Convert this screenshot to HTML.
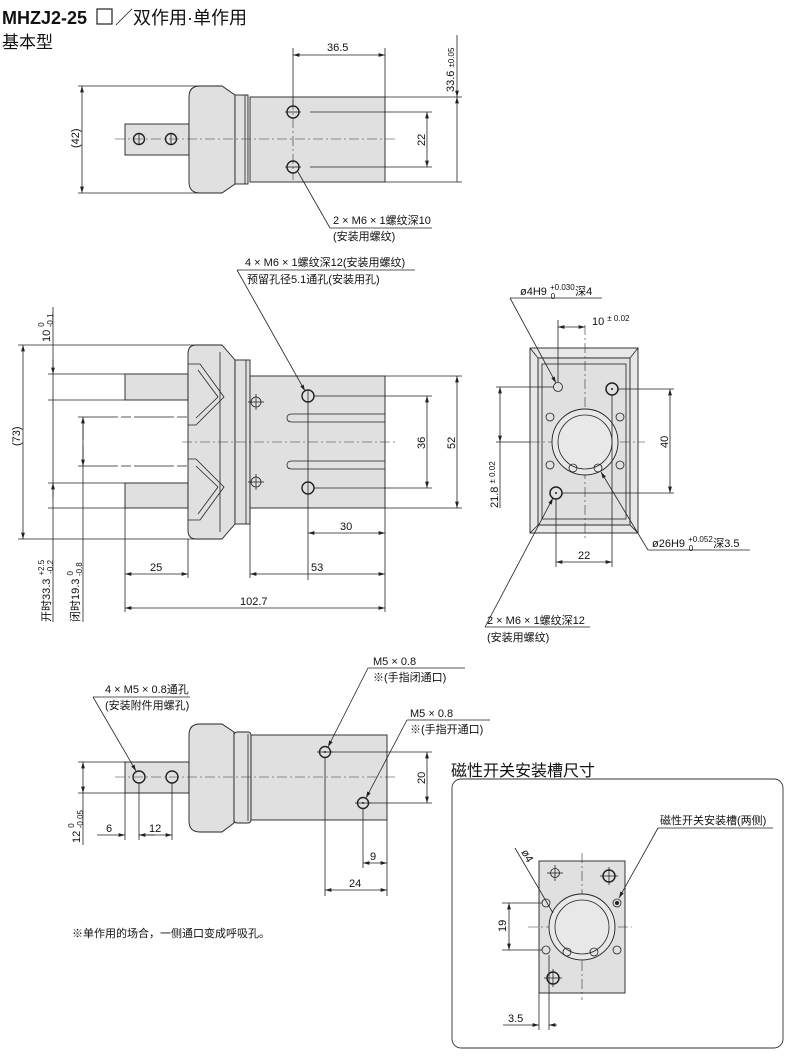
<!DOCTYPE html>
<html><head><meta charset="utf-8"><style>
html,body{margin:0;padding:0;background:#fff}
svg{display:block}
text{font-family:"Liberation Sans","Noto Sans CJK SC",sans-serif;fill:#111}
.l{stroke:#222;stroke-width:0.8;fill:none}
.g{fill:#e0e0e0;stroke:#222;stroke-width:0.9}
.c{stroke:#333;stroke-width:0.6;fill:none;stroke-dasharray:10 3 2 3}
.d{font-size:11px}
.s{font-size:8px}
</style></head><body>
<svg width="790" height="1056" viewBox="0 0 790 1056" xmlns="http://www.w3.org/2000/svg">
<defs>
<marker id="a" viewBox="0 0 10 6" refX="10" refY="3" markerWidth="8" markerHeight="5" orient="auto-start-reverse"><path d="M0,0 L10,3 L0,6 z" fill="#222"/></marker>
</defs>

<!-- Titles -->
<text x="2" y="24" style="font-size:18px;font-weight:bold">MHZJ2-25</text>
<rect x="97" y="9" width="15" height="15" fill="none" stroke="#222" stroke-width="1.2"/>
<text x="115" y="24" style="font-size:18px">／双作用·单作用</text>
<text x="2" y="48" style="font-size:17px">基本型</text>

<!-- ===== VIEW 1 ===== -->
<rect class="g" x="125" y="124" width="64" height="31"/>
<path class="g" d="M200,86 H222 L235,95 V184 L222,193 H200 Q189,193 189,182 V97 Q189,86 200,86 Z"/>
<rect class="g" x="235" y="95" width="13" height="89"/>
<line class="l" x1="245" y1="95" x2="245" y2="184"/>
<rect class="g" x="250" y="97" width="135" height="85"/>
<line class="c" x1="115" y1="139" x2="395" y2="139"/>
<line class="c" x1="293" y1="100" x2="293" y2="180"/>
<circle class="l" cx="139" cy="139" r="5.5" style="stroke-width:1.4"/><line class="l" x1="139" y1="133" x2="139" y2="145"/>
<circle class="l" cx="171" cy="139" r="5.5" style="stroke-width:1.4"/><line class="l" x1="171" y1="133" x2="171" y2="145"/>
<circle class="l" cx="293" cy="112" r="6" style="stroke-width:1.4"/><line class="l" x1="285" y1="112" x2="301" y2="112"/>
<circle class="l" cx="293" cy="167" r="6" style="stroke-width:1.4"/><line class="l" x1="285" y1="167" x2="301" y2="167"/>
<!-- dims -->
<line class="l" x1="293" y1="48" x2="293" y2="105"/><line class="l" x1="385" y1="48" x2="385" y2="97"/>
<line class="l" x1="293" y1="55" x2="385" y2="55" marker-start="url(#a)" marker-end="url(#a)"/>
<text class="d" x="327" y="51">36.5</text>
<line class="l" x1="385" y1="97" x2="462" y2="97"/><line class="l" x1="385" y1="182" x2="462" y2="182"/>
<line class="l" x1="457" y1="35" x2="457" y2="97" marker-end="url(#a)"/>
<line class="l" x1="457" y1="182" x2="457" y2="97" marker-end="url(#a)"/>
<text class="d" transform="translate(454,92) rotate(-90)">33.6 <tspan class="s">±0.05</tspan></text>
<line class="l" x1="310" y1="112" x2="432" y2="112"/><line class="l" x1="310" y1="167" x2="432" y2="167"/>
<line class="l" x1="427" y1="112" x2="427" y2="167" marker-start="url(#a)" marker-end="url(#a)"/>
<text class="d" transform="translate(425,146) rotate(-90)">22</text>
<line class="l" x1="78" y1="86" x2="200" y2="86"/><line class="l" x1="78" y1="193" x2="200" y2="193"/>
<line class="l" x1="82" y1="86" x2="82" y2="193" marker-start="url(#a)" marker-end="url(#a)"/>
<text class="d" transform="translate(79,148) rotate(-90)">(42)</text>
<line class="l" x1="298" y1="172" x2="330" y2="228"/><line class="l" x1="330" y1="228" x2="432" y2="228"/>
<text class="d" x="333" y="224">2 × M6 × 1螺纹深10</text>
<text class="d" x="333" y="240">(安装用螺纹)</text>

<!-- ===== VIEW 2 ===== -->
<rect class="g" x="125" y="374" width="63" height="26"/>
<rect class="g" x="125" y="483" width="63" height="25"/>
<path class="g" d="M196,345 H222 L235,360 V524 L222,539 H196 Q188,539 188,530 V354 Q188,345 196,345 Z"/>
<rect class="g" x="235" y="360" width="15" height="164"/>
<line class="l" x1="246" y1="360" x2="246" y2="524"/>
<line class="l" x1="220" y1="352" x2="220" y2="532"/>
<rect class="g" x="250" y="376" width="135" height="132"/>
<path class="l" d="M188,364 H200 L224,397 L196,425 H188"/>
<path class="l" d="M198,370 L218,397 L196,418"/>
<path class="l" d="M188,520 H200 L224,487 L196,459 H188"/>
<path class="l" d="M198,514 L218,487 L196,466"/>
<path class="l" d="M385,414 H292 Q287,414 287,418 Q287,422 292,422 H385"/>
<path class="l" d="M385,461 H292 Q287,461 287,465 Q287,469 292,469 H385"/>
<line class="c" x1="182" y1="442" x2="395" y2="442"/>
<circle class="l" cx="308" cy="396" r="6" style="stroke-width:1.4"/>
<circle class="l" cx="308" cy="488" r="6" style="stroke-width:1.4"/>
<circle class="l" cx="256" cy="402" r="5"/><line class="l" x1="248" y1="402" x2="264" y2="402"/><line class="l" x1="256" y1="394" x2="256" y2="410"/>
<circle class="l" cx="256" cy="482" r="5"/><line class="l" x1="248" y1="482" x2="264" y2="482"/><line class="l" x1="256" y1="474" x2="256" y2="490"/>
<line class="l" x1="308" y1="390" x2="308" y2="580"/>
<!-- leader -->
<line class="l" x1="237" y1="270" x2="305" y2="391" marker-end="url(#a)"/>
<line class="l" x1="237" y1="270" x2="415" y2="270"/>
<text class="d" x="245" y="266">4 × M6 × 1螺纹深12(安装用螺纹)</text>
<text class="d" x="247" y="283">预留孔径5.1通孔(安装用孔)</text>
<!-- right dims -->
<line class="l" x1="314" y1="396" x2="432" y2="396"/><line class="l" x1="314" y1="488" x2="432" y2="488"/>
<line class="l" x1="427" y1="396" x2="427" y2="488" marker-start="url(#a)" marker-end="url(#a)"/>
<text class="d" transform="translate(425,449) rotate(-90)">36</text>
<line class="l" x1="385" y1="376" x2="462" y2="376"/><line class="l" x1="385" y1="508" x2="462" y2="508"/>
<line class="l" x1="457" y1="376" x2="457" y2="508" marker-start="url(#a)" marker-end="url(#a)"/>
<text class="d" transform="translate(455,449) rotate(-90)">52</text>
<!-- bottom dims -->
<line class="l" x1="385" y1="508" x2="385" y2="612"/>
<line class="l" x1="308" y1="533" x2="385" y2="533" marker-start="url(#a)" marker-end="url(#a)"/>
<text class="d" x="340" y="530">30</text>
<line class="l" x1="250" y1="508" x2="250" y2="578"/>
<line class="l" x1="250" y1="574" x2="385" y2="574" marker-start="url(#a)" marker-end="url(#a)"/>
<text class="d" x="311" y="571">53</text>
<line class="l" x1="125" y1="508" x2="125" y2="612"/><line class="l" x1="188" y1="539" x2="188" y2="578"/>
<line class="l" x1="125" y1="574" x2="188" y2="574" marker-start="url(#a)" marker-end="url(#a)"/>
<text class="d" x="150" y="571">25</text>
<line class="l" x1="125" y1="608" x2="385" y2="608" marker-start="url(#a)" marker-end="url(#a)"/>
<text class="d" x="240" y="605">102.7</text>
<!-- left dims -->
<line class="l" x1="18" y1="345" x2="196" y2="345"/><line class="l" x1="18" y1="539" x2="196" y2="539"/>
<line class="l" x1="23" y1="345" x2="23" y2="539" marker-start="url(#a)" marker-end="url(#a)"/>
<text class="d" transform="translate(20,446) rotate(-90)">(73)</text>
<line class="l" x1="48" y1="374" x2="125" y2="374"/><line class="l" x1="48" y1="400" x2="125" y2="400"/>
<line class="l" x1="48" y1="483" x2="125" y2="483"/><line class="l" x1="48" y1="508" x2="125" y2="508"/>
<line class="l" x1="53" y1="307" x2="53" y2="622"/>
<line class="l" x1="53" y1="360" x2="53" y2="374" marker-end="url(#a)"/>
<line class="l" x1="53" y1="497" x2="53" y2="483" marker-end="url(#a)"/>
<text class="d" transform="translate(50,342) rotate(-90)">10 <tspan class="s" dy="-6">0</tspan><tspan class="s" dx="-5" dy="9">-0.1</tspan></text>
<line class="l" x1="78" y1="417" x2="188" y2="417" style="stroke-dasharray:40 3 10 3"/>
<line class="l" x1="78" y1="466" x2="188" y2="466" style="stroke-dasharray:40 3 10 3"/>
<line class="l" x1="83" y1="417" x2="83" y2="622"/>
<line class="l" x1="83" y1="440" x2="83" y2="417" marker-end="url(#a)"/>
<line class="l" x1="83" y1="445" x2="83" y2="466" marker-end="url(#a)"/>
<text class="d" transform="translate(50,622) rotate(-90)">开时33.3 <tspan class="s" dy="-6">+2.5</tspan><tspan class="s" dx="-14" dy="9">-0.2</tspan></text>
<text class="d" transform="translate(79,622) rotate(-90)">闭时19.3 <tspan class="s" dy="-6">0</tspan><tspan class="s" dx="-5" dy="9">-0.8</tspan></text>

<!-- ===== VIEW 3 ===== -->
<rect x="530" y="348" width="108" height="185" fill="#e8e8e8" stroke="#222" stroke-width="0.9"/>
<path class="l" d="M530,348 L538,358 H630 L638,348 M530,533 L538,525 H630 L638,533"/>
<rect class="g" x="538" y="358" width="92" height="167"/>
<rect class="l" x="542" y="364" width="84" height="155"/>
<line class="c" x1="585" y1="325" x2="585" y2="540"/>
<line class="c" x1="530" y1="442" x2="645" y2="442"/>
<circle cx="585" cy="442" r="33" fill="#e8e8e8" stroke="#222" stroke-width="0.9"/>
<circle class="l" cx="585" cy="442" r="27"/>
<circle class="l" cx="573" cy="468" r="4"/><circle class="l" cx="598" cy="468" r="4"/>
<circle class="l" cx="558" cy="387" r="4.5"/>
<circle class="l" cx="612" cy="389" r="6" style="stroke-width:1.5"/><circle cx="612" cy="389" r="1" fill="#222"/>
<circle class="l" cx="556" cy="493" r="6" style="stroke-width:1.5"/><circle cx="556" cy="493" r="1" fill="#222"/>
<g class="l"><circle cx="550" cy="417" r="4"/><circle cx="620" cy="417" r="4"/><circle cx="550" cy="465" r="4"/><circle cx="620" cy="465" r="4"/></g>
<line class="l" x1="510" y1="298" x2="556" y2="383" marker-end="url(#a)"/>
<line class="l" x1="510" y1="298" x2="602" y2="298"/>
<text class="d" x="520" y="295">ø4H9 <tspan class="s" dy="-5">+0.030</tspan><tspan class="s" dx="-24" dy="9">0</tspan><tspan dx="20" dy="-4">深4</tspan></text>
<line class="l" x1="558" y1="320" x2="558" y2="382"/>
<line class="l" x1="558" y1="327" x2="585" y2="327" marker-start="url(#a)" marker-end="url(#a)"/>
<text class="d" x="592" y="325">10 <tspan class="s" dy="-4">± 0.02</tspan></text>
<line class="l" x1="618" y1="389" x2="674" y2="389"/><line class="l" x1="562" y1="493" x2="674" y2="493"/>
<line class="l" x1="670" y1="389" x2="670" y2="493" marker-start="url(#a)" marker-end="url(#a)"/>
<text class="d" transform="translate(668,448) rotate(-90)">40</text>
<line class="l" x1="496" y1="387" x2="554" y2="387"/><line class="l" x1="496" y1="442" x2="530" y2="442"/>
<line class="l" x1="500" y1="387" x2="500" y2="442" marker-start="url(#a)" marker-end="url(#a)"/>
<line class="l" x1="500" y1="442" x2="500" y2="508"/>
<text class="d" transform="translate(498,508) rotate(-90)">21.8 <tspan class="s" dy="-3">± 0.02</tspan></text>
<line class="l" x1="556" y1="499" x2="556" y2="567"/><line class="l" x1="612" y1="395" x2="612" y2="567"/>
<line class="l" x1="556" y1="562" x2="612" y2="562" marker-start="url(#a)" marker-end="url(#a)"/>
<text class="d" x="578" y="559">22</text>
<line class="l" x1="648" y1="550" x2="601" y2="472" marker-end="url(#a)"/>
<line class="l" x1="648" y1="550" x2="750" y2="550"/>
<text class="d" x="652" y="547">ø26H9 <tspan class="s" dy="-5">+0.052</tspan><tspan class="s" dx="-24" dy="9">0</tspan><tspan dx="20" dy="-4">深3.5</tspan></text>
<line class="l" x1="485" y1="627" x2="553" y2="498" marker-end="url(#a)"/>
<line class="l" x1="485" y1="627" x2="590" y2="627"/>
<text class="d" x="487" y="624">2 × M6 × 1螺纹深12</text>
<text class="d" x="487" y="641">(安装用螺纹)</text>

<!-- ===== VIEW 4 ===== -->
<rect class="g" x="125" y="762" width="64" height="31"/>
<path class="g" d="M200,724 H222 L234,732 V823 L222,832 H200 Q189,832 189,821 V735 Q189,724 200,724 Z"/>
<rect class="g" x="234" y="732" width="17" height="91" rx="3"/>
<line class="l" x1="248" y1="734" x2="248" y2="821"/>
<rect class="g" x="251" y="735" width="136" height="85"/>
<line class="c" x1="115" y1="777" x2="395" y2="777"/>
<circle class="l" cx="139" cy="777" r="6" style="stroke-width:1.4"/>
<circle class="l" cx="172" cy="777" r="6" style="stroke-width:1.4"/>
<circle class="l" cx="325" cy="752" r="5.5" style="stroke-width:1.4"/><line class="l" x1="317" y1="752" x2="333" y2="752"/><circle cx="325" cy="752" r="1" fill="#222"/>
<circle class="l" cx="363" cy="803" r="5.5" style="stroke-width:1.4"/><line class="l" x1="355" y1="803" x2="371" y2="803"/><circle cx="363" cy="803" r="1" fill="#222"/>
<line class="l" x1="331" y1="752" x2="432" y2="752"/><line class="l" x1="369" y1="803" x2="432" y2="803"/>
<line class="l" x1="427" y1="752" x2="427" y2="803" marker-start="url(#a)" marker-end="url(#a)"/>
<text class="d" transform="translate(425,784) rotate(-90)">20</text>
<line class="l" x1="78" y1="762" x2="125" y2="762"/><line class="l" x1="78" y1="793" x2="125" y2="793"/>
<line class="l" x1="83" y1="762" x2="83" y2="793" marker-start="url(#a)" marker-end="url(#a)"/>
<line class="l" x1="83" y1="793" x2="83" y2="845"/>
<text class="d" transform="translate(80,843) rotate(-90)">12 <tspan class="s" dy="-6">0</tspan><tspan class="s" dx="-5" dy="9">-0.05</tspan></text>
<line class="l" x1="125" y1="793" x2="125" y2="840"/><line class="l" x1="139" y1="783" x2="139" y2="840"/><line class="l" x1="172" y1="783" x2="172" y2="840"/>
<line class="l" x1="97" y1="835" x2="125" y2="835" marker-end="url(#a)"/>
<line class="l" x1="155" y1="835" x2="139" y2="835" marker-end="url(#a)"/>
<text class="d" x="106" y="832">6</text>
<line class="l" x1="139" y1="835" x2="172" y2="835" marker-end="url(#a)"/>
<text class="d" x="149" y="832">12</text>
<line class="l" x1="325" y1="758" x2="325" y2="896"/><line class="l" x1="363" y1="809" x2="363" y2="868"/><line class="l" x1="387" y1="820" x2="387" y2="896"/>
<line class="l" x1="363" y1="863" x2="387" y2="863" marker-start="url(#a)" marker-end="url(#a)"/>
<text class="d" x="370" y="860">9</text>
<line class="l" x1="325" y1="890" x2="387" y2="890" marker-start="url(#a)" marker-end="url(#a)"/>
<text class="d" x="349" y="887">24</text>
<line class="l" x1="93" y1="697" x2="136" y2="771" marker-end="url(#a)"/>
<line class="l" x1="93" y1="697" x2="190" y2="697"/>
<text class="d" x="105" y="693">4 × M5 × 0.8通孔</text>
<text class="d" x="105" y="709">(安装附件用螺孔)</text>
<line class="l" x1="368" y1="668" x2="328" y2="747" marker-end="url(#a)"/>
<line class="l" x1="368" y1="668" x2="465" y2="668"/>
<text class="d" x="373" y="665">M5 × 0.8</text>
<text class="d" x="373" y="681">※(手指闭通口)</text>
<line class="l" x1="407" y1="720" x2="366" y2="798" marker-end="url(#a)"/>
<line class="l" x1="407" y1="720" x2="490" y2="720"/>
<text class="d" x="410" y="717">M5 × 0.8</text>
<text class="d" x="410" y="733">※(手指开通口)</text>
<text class="d" x="72" y="937">※单作用的场合，一侧通口变成呼吸孔。</text>

<!-- ===== VIEW 5 ===== -->
<text x="451" y="776" style="font-size:16px">磁性开关安装槽尺寸</text>
<rect x="452" y="779" width="331" height="269" rx="9" fill="none" stroke="#333" stroke-width="0.9"/>
<rect class="g" x="539" y="861" width="86" height="132"/>
<line class="c" x1="582" y1="853" x2="582" y2="1000"/>
<line class="c" x1="528" y1="927" x2="632" y2="927"/>
<circle cx="582" cy="927" r="33" fill="#e8e8e8" stroke="#222" stroke-width="0.9"/>
<circle class="l" cx="582" cy="927" r="27"/>
<circle class="l" cx="567" cy="952" r="4"/><circle class="l" cx="594" cy="952" r="4"/>
<circle class="l" cx="555" cy="873" r="4.5"/><line class="l" x1="547" y1="873" x2="563" y2="873"/><line class="l" x1="555" y1="865" x2="555" y2="881"/>
<circle class="l" cx="609" cy="876" r="6" style="stroke-width:1.5"/><line class="l" x1="600" y1="876" x2="618" y2="876"/><line class="l" x1="609" y1="867" x2="609" y2="885"/>
<circle class="l" cx="553" cy="978" r="6" style="stroke-width:1.5"/><line class="l" x1="544" y1="978" x2="562" y2="978"/><line class="l" x1="553" y1="969" x2="553" y2="987"/>
<g class="l"><circle cx="546" cy="903" r="4"/><circle cx="617" cy="903" r="4"/><circle cx="546" cy="950" r="4"/><circle cx="617" cy="950" r="4"/></g>
<circle cx="617" cy="903" r="2" fill="#222"/>
<line class="l" x1="658" y1="828" x2="619" y2="898" marker-end="url(#a)"/>
<line class="l" x1="658" y1="828" x2="773" y2="828"/>
<text class="d" x="660" y="824">磁性开关安装槽(两侧)</text>
<line class="l" x1="515" y1="848" x2="553" y2="913"/>
<text class="d" transform="translate(521,852) rotate(60)">ø4</text>
<line class="l" x1="502" y1="903" x2="542" y2="903"/><line class="l" x1="502" y1="950" x2="542" y2="950"/>
<line class="l" x1="509" y1="903" x2="509" y2="950" marker-start="url(#a)" marker-end="url(#a)"/>
<text class="d" transform="translate(506,932) rotate(-90)">19</text>
<line class="l" x1="539" y1="993" x2="539" y2="1030"/><line class="l" x1="549" y1="955" x2="549" y2="1030"/>
<line class="l" x1="503" y1="1025" x2="539" y2="1025" marker-end="url(#a)"/>
<line class="l" x1="557" y1="1025" x2="549" y2="1025" marker-end="url(#a)"/>
<text class="d" x="508" y="1022">3.5</text>
</svg>
</body></html>
